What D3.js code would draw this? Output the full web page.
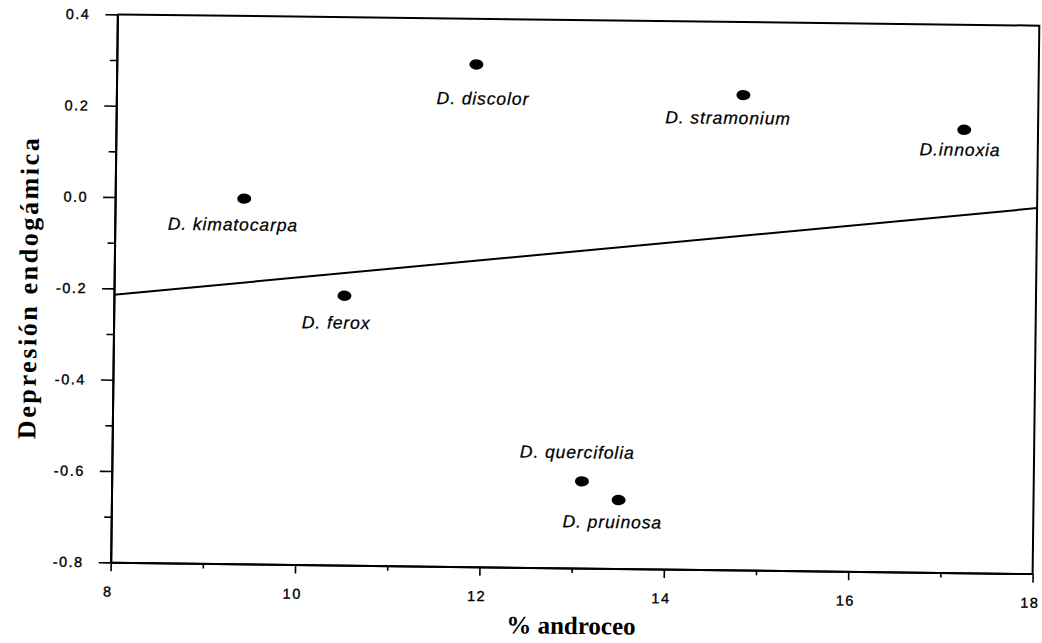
<!DOCTYPE html>
<html>
<head>
<meta charset="utf-8">
<script src="https://cdn.jsdelivr.net/npm/d3@7/dist/d3.min.js"></script>
<style>
  html, body { margin: 0; padding: 0; background: #fff; }
  svg { display: block; }
</style>
</head>
<body>
<svg id="chart" width="1042" height="643"></svg>
<script>
// Species of Datura: share of biomass in the androecium vs. inbreeding depression
const species   = ["D. kimatocarpa", "D. ferox", "D. discolor", "D. stramonium",
                   "D.innoxia", "D. quercifolia", "D. pruinosa"];
const androceo  = [9.4, 10.5, 11.9, 14.8, 17.2, 13.1, 13.5];
const depresion = [0.0, -0.21, 0.30, 0.24, 0.17, -0.61, -0.65];

const xTicks      = [8, 10, 12, 14, 16, 18];
const xMinorTicks = [9, 11, 13, 15, 17];
const yTicks      = [-0.8, -0.6, -0.4, -0.2, 0.0, 0.2, 0.4];
const yMinorTicks = [-0.7, -0.5, -0.3, -0.1, 0.1, 0.3];

const xTitle = "% androceo";
const yTitle = "Depresión endogámica";

// ---- layout ----
const W = 1042, H = 643;
const plot = { left: 114, top: 20, width: 922, height: 548 };
const cx = plot.left + plot.width / 2, cy = plot.top + plot.height / 2;

const svg = d3.select("#chart");
svg.append("rect").attr("width", W).attr("height", H).attr("fill", "#fff");

// the whole figure sits slightly askew on the page
const g = svg.append("g").attr("transform", `rotate(0.7, ${cx}, ${cy})`);

const x = d3.scaleLinear().domain([8, 18]).range([plot.left, plot.left + plot.width]);
const y = d3.scaleLinear().domain([-0.8, 0.4]).range([plot.top + plot.height, plot.top]);

const tickFont = "'Liberation Sans', Arial, Helvetica, sans-serif";

function styleAxis(sel) {
  sel.selectAll("path.domain").attr("stroke", "#000").attr("stroke-width", 2);
  sel.selectAll(".tick line").attr("stroke", "#000").attr("stroke-width", 1.6);
  sel.selectAll(".tick text")
    .attr("fill", "#000")
    .attr("stroke", "#000").attr("stroke-width", 0.35)
    .style("font-family", tickFont)
    .style("font-size", "14.5px")
    .style("letter-spacing", "1.5px");
}

// x axis: major and minor ticks
g.append("g")
  .attr("transform", `translate(0,${plot.top + plot.height})`)
  .call(d3.axisBottom(x).tickValues(xMinorTicks).tickSize(5).tickSizeOuter(0).tickFormat(""))
  .call(styleAxis);
g.append("g")
  .attr("transform", `translate(0,${plot.top + plot.height})`)
  .call(d3.axisBottom(x).tickValues(xTicks).tickSize(9).tickSizeOuter(0)
        .tickPadding(15).tickFormat(d => String(d)))
  .call(styleAxis)
  .call(a => a.selectAll(".tick text").attr("dx", "-3"));

// y axis: major and minor ticks
g.append("g")
  .attr("transform", `translate(${plot.left},0)`)
  .call(d3.axisLeft(y).tickValues(yMinorTicks).tickSize(7).tickSizeOuter(0).tickFormat(""))
  .call(styleAxis);
g.append("g")
  .attr("transform", `translate(${plot.left},0)`)
  .call(d3.axisLeft(y).tickValues(yTicks).tickSize(12).tickSizeOuter(0)
        .tickPadding(15).tickFormat(d => d.toFixed(1)))
  .call(styleAxis);

// top and right edges of the frame
g.append("path")
  .attr("d", d3.line()([[x(8), y(0.4)], [x(18), y(0.4)], [x(18), y(-0.8)]]))
  .attr("fill", "none").attr("stroke", "#000").attr("stroke-width", 2);

// least-squares regression line through the species
const mx = d3.mean(androceo), my = d3.mean(depresion);
const sxy = d3.sum(androceo, (v, i) => (v - mx) * (depresion[i] - my));
const sxx = d3.sum(androceo, v => (v - mx) ** 2);
const slope = sxy / sxx, intercept = my - slope * mx;
const fit = x.domain().map(v => [v, intercept + slope * v]);
g.append("path")
  .attr("d", d3.line().x(d => x(d[0])).y(d => y(d[1]))(fit))
  .attr("fill", "none").attr("stroke", "#000").attr("stroke-width", 2);

// points
const pts = species.map((s, i) => ({ name: s, xv: androceo[i], yv: depresion[i] }));
g.selectAll("ellipse.pt").data(pts).join("ellipse")
  .attr("class", "pt")
  .attr("cx", d => x(d.xv)).attr("cy", d => y(d.yv))
  .attr("rx", 7).attr("ry", 5.2)
  .attr("fill", "#000");

// species labels, nudged around their points
const nudge = {
  "D. kimatocarpa": [-11, 32],
  "D. ferox":       [-8, 33],
  "D. discolor":    [7, 40],
  "D. stramonium":  [-15, 29],
  "D.innoxia":      [-4, 26],
  "D. quercifolia": [-5, -23],
  "D. pruinosa":    [-6, 28]
};
g.selectAll("text.sp").data(pts).join("text")
  .attr("class", "sp")
  .attr("x", d => x(d.xv) + nudge[d.name][0])
  .attr("y", d => y(d.yv) + nudge[d.name][1])
  .attr("text-anchor", "middle")
  .style("font-family", tickFont)
  .style("font-style", "italic")
  .style("font-size", "17.5px")
  .style("letter-spacing", "0.9px")
  .attr("fill", "#000")
  .attr("stroke", "#000").attr("stroke-width", 0.25)
  .text(d => d.name);

// axis titles
const titleFont = "'Liberation Serif', 'Times New Roman', Times, serif";
g.append("text")
  .attr("x", cx).attr("y", 634)
  .attr("text-anchor", "middle")
  .style("font-family", titleFont).style("font-weight", "bold")
  .style("font-size", "25px")
  .attr("fill", "#000")
  .text(xTitle);
g.append("text")
  .attr("transform", `translate(37,${cy}) rotate(-90)`)
  .attr("text-anchor", "middle")
  .style("font-family", titleFont).style("font-weight", "bold")
  .style("font-size", "26px")
  .style("letter-spacing", "2.6px")
  .attr("fill", "#000")
  .text(yTitle);
</script>
</body>
</html>
